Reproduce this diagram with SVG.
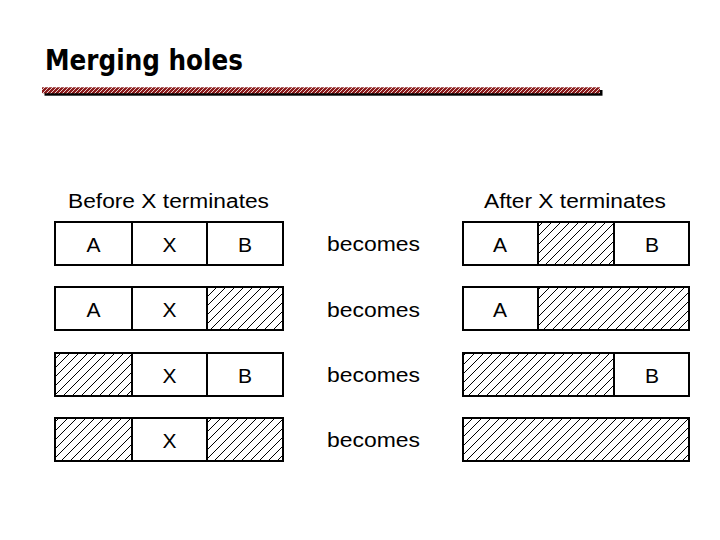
<svg xmlns="http://www.w3.org/2000/svg" width="720" height="540" viewBox="0 0 720 540">
<defs>
<pattern id="hatch" patternUnits="userSpaceOnUse" width="9" height="9">
<path d="M-2,2 L2,-2 M0,9 L9,0 M7,11 L11,7" stroke="#000" stroke-width="1"/>
</pattern>
<pattern id="barhatch" patternUnits="userSpaceOnUse" width="4" height="4">
<rect width="4" height="4" fill="#8b1c1c"/>
<path d="M-1,1 L1,-1 M0,4 L4,0 M3,5 L5,3" stroke="#fff" stroke-width="0.8"/>
</pattern>
<style>
.box{fill:#fff;stroke:#000;stroke-width:2}
.hole{fill:url(#hatch);stroke:#000;stroke-width:2}
.lbl{font-family:"Liberation Sans",Arial,sans-serif;font-size:21px;fill:#000;text-anchor:middle}
.hdr{font-family:"Liberation Sans",Arial,sans-serif;font-size:19.5px;fill:#000}
.bec{font-family:"Liberation Sans",Arial,sans-serif;font-size:20px;fill:#000}
</style>
</defs>
<rect width="720" height="540" fill="#fff"/>
<g id="title">
<text x="45" y="70" font-family="'Comic Sans MS','DejaVu Sans',sans-serif" font-size="28" font-weight="bold" textLength="198" lengthAdjust="spacingAndGlyphs" fill="#000">Merging holes</text>
<rect x="44.5" y="90" width="558" height="5.7" fill="#000"/>
<rect x="42" y="87.3" width="558" height="6" fill="url(#barhatch)"/>
</g>
<g id="headers">
<text class="hdr" x="68" y="208" textLength="201" lengthAdjust="spacingAndGlyphs">Before X terminates</text>
<text class="hdr" x="484" y="208" textLength="182" lengthAdjust="spacingAndGlyphs">After X terminates</text>
</g>
<g id="row1-before">
<rect class="box" x="55" y="222" width="77" height="43"/>
<rect class="box" x="132" y="222" width="75" height="43"/>
<rect class="box" x="207" y="222" width="76" height="43"/>
<text class="lbl" x="93.5" y="252">A</text>
<text class="lbl" x="169.5" y="252">X</text>
<text class="lbl" x="245" y="252">B</text>
</g>
<g id="row2-before">
<rect class="box" x="55" y="287" width="77" height="43"/>
<rect class="box" x="132" y="287" width="75" height="43"/>
<rect class="hole" x="207" y="287" width="76" height="43"/>
<text class="lbl" x="93.5" y="317">A</text>
<text class="lbl" x="169.5" y="317">X</text>
</g>
<g id="row3-before">
<rect class="hole" x="55" y="353" width="77" height="43"/>
<rect class="box" x="132" y="353" width="75" height="43"/>
<rect class="box" x="207" y="353" width="76" height="43"/>
<text class="lbl" x="169.5" y="383">X</text>
<text class="lbl" x="245" y="383">B</text>
</g>
<g id="row4-before">
<rect class="hole" x="55" y="418" width="77" height="43"/>
<rect class="box" x="132" y="418" width="75" height="43"/>
<rect class="hole" x="207" y="418" width="76" height="43"/>
<text class="lbl" x="169.5" y="448">X</text>
</g>
<g id="becomes">
<text class="bec" x="327" y="251" textLength="93" lengthAdjust="spacingAndGlyphs">becomes</text>
<text class="bec" x="327" y="317" textLength="93" lengthAdjust="spacingAndGlyphs">becomes</text>
<text class="bec" x="327" y="382" textLength="93" lengthAdjust="spacingAndGlyphs">becomes</text>
<text class="bec" x="327" y="447" textLength="93" lengthAdjust="spacingAndGlyphs">becomes</text>
</g>
<g id="row1-after">
<rect class="box" x="463" y="222" width="75" height="43"/>
<rect class="hole" x="538" y="222" width="76" height="43"/>
<rect class="box" x="614" y="222" width="75" height="43"/>
<text class="lbl" x="500" y="252">A</text>
<text class="lbl" x="652" y="252">B</text>
</g>
<g id="row2-after">
<rect class="box" x="463" y="287" width="75" height="43"/>
<rect class="hole" x="538" y="287" width="151" height="43"/>
<text class="lbl" x="500" y="317">A</text>
</g>
<g id="row3-after">
<rect class="hole" x="463" y="353" width="151" height="43"/>
<rect class="box" x="614" y="353" width="75" height="43"/>
<text class="lbl" x="652" y="383">B</text>
</g>
<g id="row4-after">
<rect class="hole" x="463" y="418" width="226" height="43"/>
</g>
</svg>
